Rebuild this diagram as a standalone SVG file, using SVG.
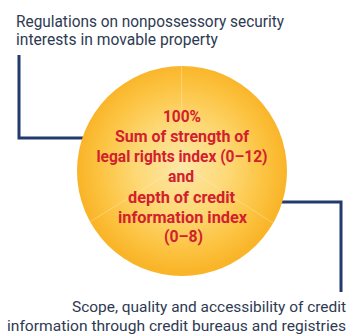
<svg xmlns="http://www.w3.org/2000/svg" width="349" height="335" viewBox="0 0 349 335">
<style>
.lbl{font-family:Roboto,"Liberation Sans",sans-serif;font-size:17px;fill:#2e3a52}
.lbl2{font-family:Roboto,"Liberation Sans",sans-serif;font-size:15.5px;fill:#2e3a52}
.ctr{font-family:Roboto,"Liberation Sans",sans-serif;font-size:16px;font-weight:bold;fill:#d2202f;text-anchor:middle}
.conn{fill:none;stroke:#233a6c;stroke-width:3}
.sep{stroke:#fff4cf;stroke-width:0.8;opacity:0.45}
</style>
<defs>
<radialGradient id="g" cx="182" cy="168" r="105" gradientUnits="userSpaceOnUse">
<stop offset="0" stop-color="#fde7a6"/>
<stop offset="0.45" stop-color="#fdd874"/>
<stop offset="0.8" stop-color="#fcc23f"/>
<stop offset="1" stop-color="#f9b428"/>
</radialGradient>
</defs>
<g id="connectors">
<path class="conn" d="M19,55 V138 H83"/>
<path class="conn" d="M281,202 H341 V292"/>
</g>
<g id="circle">
<circle cx="182" cy="171" r="105" fill="url(#g)"/>
<line class="sep" x1="181.5" y1="66" x2="182" y2="165"/>
<line class="sep" x1="182" y1="165" x2="88" y2="223"/>
<line class="sep" x1="182" y1="165" x2="273" y2="223"/>
<text class="ctr" x="182" y="122" textLength="38" lengthAdjust="spacingAndGlyphs">100%</text>
<text class="ctr" x="182" y="142" textLength="134" lengthAdjust="spacingAndGlyphs">Sum of strength of</text>
<text class="ctr" x="182" y="162" textLength="171" lengthAdjust="spacingAndGlyphs">legal rights index (0–12)</text>
<text class="ctr" x="181" y="182" textLength="26" lengthAdjust="spacingAndGlyphs">and</text>
<text class="ctr" x="181.5" y="203" textLength="107" lengthAdjust="spacingAndGlyphs">depth of credit</text>
<text class="ctr" x="182.5" y="223" textLength="129" lengthAdjust="spacingAndGlyphs">information index</text>
<text class="ctr" x="183.5" y="242" textLength="39" lengthAdjust="spacingAndGlyphs">(0–8)</text>
</g>
<g id="top-label">
<text class="lbl" x="16" y="27" textLength="268" lengthAdjust="spacingAndGlyphs">Regulations on nonpossessory security</text>
<text class="lbl" x="16" y="45" textLength="202" lengthAdjust="spacingAndGlyphs">interests in movable property</text>
</g>
<g id="bottom-label">
<text class="lbl2" x="72" y="312" textLength="274" lengthAdjust="spacingAndGlyphs">Scope, quality and accessibility of credit</text>
<text class="lbl2" x="7" y="330.5" textLength="339" lengthAdjust="spacingAndGlyphs">information through credit bureaus and registries</text>
</g>
</svg>
